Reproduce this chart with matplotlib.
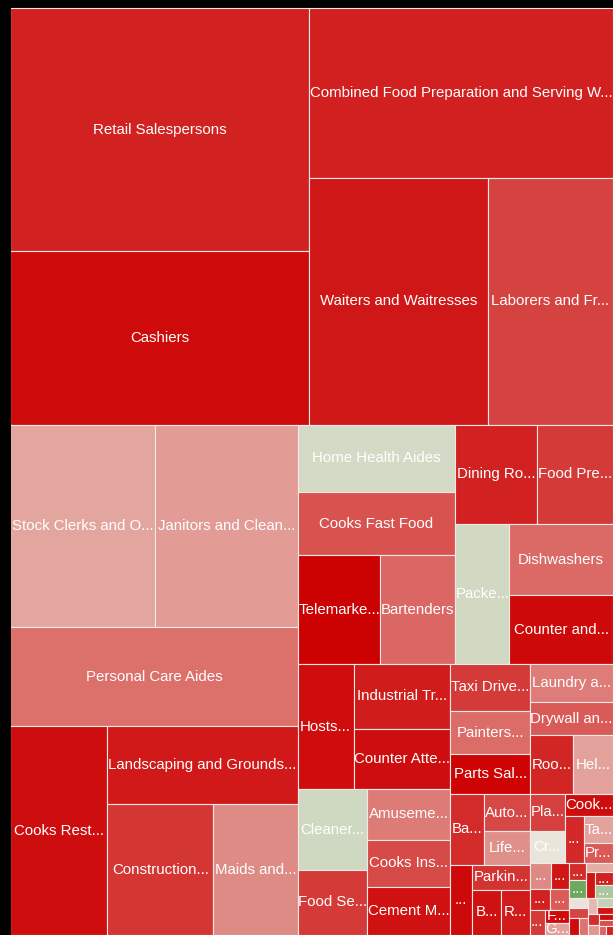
"""
Treemap of low-wage occupations: tile area = employment, colour = projected change (%).
Layout: recursive binary split along the longer side, first group = largest prefix
that stays within half of the remaining total. Output: out.png
"""

import matplotlib.pyplot as plt
from matplotlib.colors import LinearSegmentedColormap, Normalize
from matplotlib.font_manager import FontProperties
from matplotlib.patches import Rectangle

OCCUPATIONS = [
    "Retail Salespersons", "Cashiers",
    "Combined Food Preparation and Serving Workers Including Fast Food",
    "Waiters and Waitresses",
    "Laborers and Freight Stock and Material Movers Hand",
    "Stock Clerks and Order Fillers",
    "Janitors and Cleaners Except Maids and Housekeeping Cleaners",
    "Personal Care Aides", "Cooks Restaurant",
    "Landscaping and Groundskeeping Workers", "Construction Laborers",
    "Maids and Housekeeping Cleaners", "Home Health Aides", "Cooks Fast Food",
    "Telemarketers", "Bartenders",
    "Dining Room and Cafeteria Attendants and Bartender Helpers",
    "Food Preparation Workers", "Packers and Packagers Hand", "Dishwashers",
    "Counter and Rental Clerks",
    "Hosts and Hostesses Restaurant Lounge and Coffee Shop",
    "Industrial Truck and Tractor Operators",
    "Counter Attendants Cafeteria Food Concession and Coffee Shop",
    "Cleaners of Vehicles and Equipment", "Food Servers Nonrestaurant",
    "Amusement and Recreation Attendants", "Cooks Institution and Cafeteria",
    "Cement Masons and Concrete Finishers", "Taxi Drivers and Chauffeurs",
    "Painters Construction and Maintenance", "Parts Salespersons",
    "Laundry and Dry-Cleaning Workers", "Drywall and Ceiling Tile Installers",
    "Roofers", "Helpers Construction Trades", "Baggage Porters and Bellhops",
    "Automotive and Watercraft Service Attendants",
    "Life Guards and Ski Patrol", "Highway Maintenance Workers",
    "Parking Lot Attendants", "Bus Drivers School",
    "Refuse and Recyclable Material Collectors", "Plasterers and Stucco Masons",
    "Crossing Guards", "Cooks Short Order",
    "Ushers Lobby Attendants and Ticket Takers", "Tapers",
    "Pressers Textile Garment and Related Materials",
    "Manicurists and Pedicurists", "Rock Splitters Quarry",
    "Septic Tank Servicers and Sewer Pipe Cleaners",
    "Hotel Motel and Resort Desk Clerks", "Shampooers", "Fence Erectors",
    "Gaming Dealers", "Floor Sanders and Finishers",
    "Solar Photovoltaic Installers", "Tour Guides and Escorts",
    "Insulation Workers Floor Ceiling and Wall", "Pipelayers", "Glaziers",
    "Funeral Attendants", "Stonemasons", "Terrazzo Workers and Finishers",
    "Paperhangers", "Carpet Installers", "Motion Picture Projectionists",
    "Segmental Pavers", "Pile-Driver Operators",
    "Locker Room Coatroom and Dressing Room Attendants",
    "Rail-Track Laying and Maintenance Equipment Operators",
    "Farmworkers Farm Ranch and Aquacultural Animals",
    "Hazardous Materials Removal Workers", "Roustabouts Oil and Gas",
]

EMPLOYMENT = [
    72657, 51727, 51680, 44034, 30750, 29435, 28826, 28413, 20273, 14820,
    13886, 11004, 10600, 10000, 8950, 8100, 8100, 7600, 7550, 7350,
    7100, 7000, 6305, 5820, 5600, 4550, 4150, 3950, 3940, 3760,
    3440, 3200, 3154, 2739, 2537, 2370, 2360, 1700, 1535, 1525,
    1450, 1315, 1310, 1260, 1116, 1050, 880, 800, 560,
    550, 480, 420, 400, 370, 330, 300, 290, 280, 260,
    240, 230, 220, 200, 180, 170, 160, 150, 140, 120,
    110, 100, 90, 80, 70, 60,
]

CHANGE = [
    -16.9, -19.0, -17.1, -17.9, -14.1, -5.6, -6.5, -10.3, -18.6, -17.8,
    -15.3, -7.9, 3.0, -12.7, -19.8, -11.0, -16.9, -14.9, 3.3, -10.9,
    -19.1, -18.8, -17.5, -18.7, 3.6, -14.9, -9.3, -13.5, -18.3, -15.0,
    -10.6, -19.6, -9.2, -12.1, -16.7, -5.9, -16.2, -13.7, -7.4, -19.1,
    -15.6, -18.3, -17.6, -14.4, 0.3, -18.6, -16.3, -5.8, -12.1,
    -8.0, -18.0, -17.0, -12.0, -15.0, -19.0, -6.0, -16.0, 16.0, -5.0,
    -18.0, -17.0, 8.0, 0.5, -14.0, -19.0, -10.0, -4.0, 5.0, -18.0,
    -16.0, -7.0, -19.0, -13.0, -11.0, -17.0,
]

W_PX, H_PX = 613, 935
FONT_PT = 10.8


def binary_split(vals, x0, y0, x1, y1, out):
    """Split along the longer side; first part = largest prefix <= half."""
    if len(vals) == 1:
        out.append((x0, y0, x1, y1))
        return
    total = sum(vals)
    k, acc = 0, 0.0
    while k < len(vals) - 1 and acc + vals[k] <= total / 2:
        acc += vals[k]
        k += 1
    k = max(k, 1)
    frac = sum(vals[:k]) / total
    if (x1 - x0) > (y1 - y0):
        xm = x0 + (x1 - x0) * frac
        binary_split(vals[:k], x0, y0, xm, y1, out)
        binary_split(vals[k:], xm, y0, x1, y1, out)
    else:
        ym = y0 + (y1 - y0) * frac
        binary_split(vals[:k], x0, y0, x1, ym, out)
        binary_split(vals[k:], x0, ym, x1, y1, out)


cmap = LinearSegmentedColormap.from_list(
    "rdgn", ["#cc0000", "#ece6dd", "#4e9a3e"])
norm = Normalize(-20, 20)

fig = plt.figure(figsize=(W_PX / 100, H_PX / 100), dpi=100, facecolor="black")
ax = fig.add_axes([0, 0, 1, 1])
ax.set_xlim(0, W_PX); ax.set_ylim(H_PX, 0)
ax.axis("off")

rects = []
binary_split(EMPLOYMENT, 10, 8, 613, 935, rects)

renderer = fig.canvas.get_renderer()
prop = FontProperties(family="Liberation Sans", size=FONT_PT)


def text_w(s):
    return renderer.get_text_width_height_descent(s, prop, ismath=False)[0]


def fit_label(name, width):
    if text_w(name) <= width:
        return name
    for i in range(len(name) - 1, 0, -1):
        s = name[:i].rstrip() + "..."
        if text_w(s) <= width:
            return s
    return "..." if text_w("...") <= width else ""


for name, chg, (x0, y0, x1, y1) in zip(OCCUPATIONS, CHANGE, rects):
    ax.add_patch(Rectangle((x0, y0), x1 - x0, y1 - y0,
                           facecolor=cmap(norm(chg)), edgecolor="#f4e8e8",
                           linewidth=0.8))
    if y1 - y0 >= 11:
        label = fit_label(name, x1 - x0)
        if label:
            ax.text((x0 + x1) / 2, (y0 + y1) / 2, label, ha="center",
                    va="center", color="white", fontproperties=prop)

# left margin of the screenshot is plain black
ax.add_patch(Rectangle((0, 0), 10.6, H_PX, facecolor="black", edgecolor="none",
                       zorder=5))

fig.savefig("out.png", dpi=100, facecolor="black")
